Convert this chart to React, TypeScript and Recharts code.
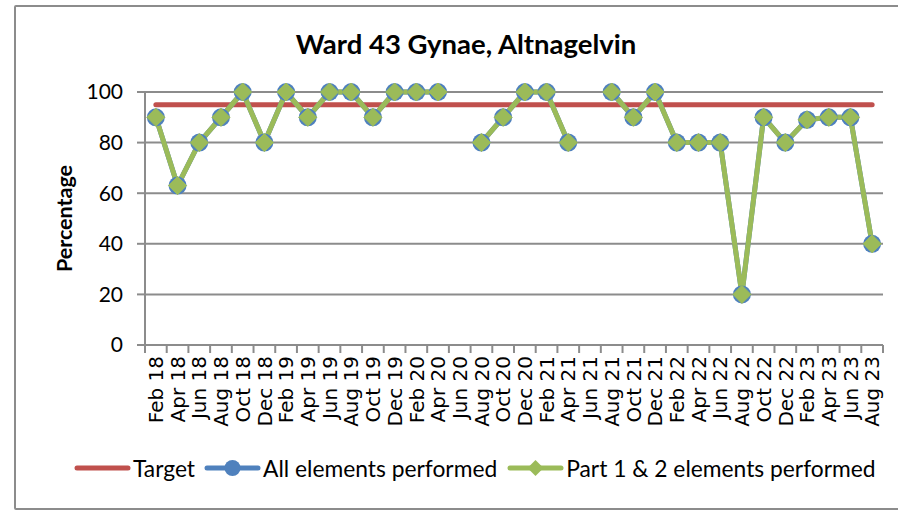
import React from 'react';
import { LineChart, Line, XAxis, YAxis, CartesianGrid, Legend } from 'recharts';

const months = [
  'Feb 18', 'Apr 18', 'Jun 18', 'Aug 18', 'Oct 18', 'Dec 18',
  'Feb 19', 'Apr 19', 'Jun 19', 'Aug 19', 'Oct 19', 'Dec 19',
  'Feb 20', 'Apr 20', 'Jun 20', 'Aug 20', 'Oct 20', 'Dec 20',
  'Feb 21', 'Apr 21', 'Jun 21', 'Aug 21', 'Oct 21', 'Dec 21',
  'Feb 22', 'Apr 22', 'Jun 22', 'Aug 22', 'Oct 22', 'Dec 22',
  'Feb 23', 'Apr 23', 'Jun 23', 'Aug 23',
];

const target = [
  95, 95, 95, 95, 95, 95, 95, 95, 95, 95, 95, 95, 95, 95, 95, 95, 95,
  95, 95, 95, 95, 95, 95, 95, 95, 95, 95, 95, 95, 95, 95, 95, 95, 95,
];

const allElements = [
  90, 63, 80, 90, 100, 80, 100, 90, 100, 100, 90, 100,
  100, 100, null, 80, 90, 100, 100, 80, null, 100, 90, 100,
  80, 80, 80, 20, 90, 80, 89, 90, 90, 40,
];

const part12 = [
  90, 63, 80, 90, 100, 80, 100, 90, 100, 100, 90, 100,
  100, 100, null, 80, 90, 100, 100, 80, null, 100, 90, 100,
  80, 80, 80, 20, 90, 80, 89, 90, 90, 40,
];

const yTicks = [0, 20, 40, 60, 80, 100];

const data = months.map((m, i) => ({
  month: m,
  target: target[i],
  all: allElements[i],
  part: part12[i],
}));

const RED = '#C0504D';
const BLUE = '#4F81BD';
const GREEN = '#9BBB59';
const GREY = '#8c8c8c';

const PLOT_LEFT = 145;
const PLOT_RIGHT = 883;
const STEP = (PLOT_RIGHT - PLOT_LEFT) / months.length;

const XTick = (props: any) => {
  const { x, y, payload, index } = props;
  const ty = y + 3;
  return (
    <g>
      <line x1={x - STEP / 2} x2={x - STEP / 2} y1={y - 8} y2={y} stroke={GREY} strokeWidth={2} />
      {index === months.length - 1 && (
        <line x1={x + STEP / 2} x2={x + STEP / 2} y1={y - 8} y2={y} stroke={GREY} strokeWidth={2} />
      )}
      <text
        x={x}
        y={ty}
        dy="0.36em"
        transform={`rotate(-90, ${x}, ${ty})`}
        textAnchor="end"
        fontFamily="DejaVu Sans"
        fontSize={20}
        fill="#000"
      >
        {payload.value}
      </text>
    </g>
  );
};

const Diamond = (props: any) => {
  const { cx, cy, index } = props;
  if (cx == null || cy == null || part12[index] == null) return <g key={`d-${index}`} />;
  const r = 9;
  return (
    <path
      key={`d-${index}`}
      d={`M${cx},${cy - r}L${cx + r},${cy}L${cx},${cy + r}L${cx - r},${cy}Z`}
      fill={GREEN}
      stroke={GREEN}
      strokeWidth={1}
    />
  );
};

const Circle = (props: any) => {
  const { cx, cy, index } = props;
  if (cx == null || cy == null || allElements[index] == null) return <g key={`c-${index}`} />;
  return <circle key={`c-${index}`} cx={cx} cy={cy} r={9} fill={BLUE} />;
};

const LegendContent = () => (
  <div
    style={{
      display: 'flex',
      alignItems: 'center',
      fontFamily: 'Lato',
      fontSize: 22.8,
      color: '#000',
      whiteSpace: 'nowrap',
    }}
  >
    <svg width={57} height={20}>
      <line x1={3} x2={54} y1={10} y2={10} stroke={RED} strokeWidth={5} strokeLinecap="round" />
    </svg>
    <span style={{ marginLeft: 2 }}>Target</span>
    <svg width={57} height={20} style={{ marginLeft: 9 }}>
      <line x1={3} x2={54} y1={10} y2={10} stroke={BLUE} strokeWidth={5} strokeLinecap="round" />
      <circle cx={28.5} cy={10} r={8} fill={BLUE} />
    </svg>
    <span style={{ marginLeft: 2 }}>All elements performed</span>
    <svg width={57} height={20} style={{ marginLeft: 10 }}>
      <line x1={3} x2={54} y1={10} y2={10} stroke={GREEN} strokeWidth={5} strokeLinecap="round" />
      <path d="M28.5,2L36.5,10L28.5,18L20.5,10Z" fill={GREEN} />
    </svg>
    <span style={{ marginLeft: 2 }}>Part 1 &amp; 2 elements performed</span>
  </div>
);

export default function App() {
  return (
    <div style={{ position: 'relative', width: 898, height: 515, background: '#fff' }}>
      <style>{`body{margin:0}`}</style>
      <div
        style={{
          position: 'absolute',
          left: 14,
          top: 5,
          width: 890,
          height: 505,
          border: `2px solid ${GREY}`,
          boxSizing: 'border-box',
          borderRadius: 2,
        }}
      />
      <div
        style={{
          position: 'absolute',
          left: 0,
          width: 932,
          top: 27,
          textAlign: 'center',
          fontFamily: 'Lato',
          fontWeight: 700,
          fontSize: 27.5,
          color: '#000',
        }}
      >
        Ward 43 Gynae, Altnagelvin
      </div>
      <div style={{ position: 'absolute', left: 0, top: 0 }}>
        <LineChart
          width={898}
          height={515}
          data={data}
          margin={{ top: 92, right: 898 - PLOT_RIGHT, bottom: 0, left: 0 }}
        >
          <CartesianGrid vertical={false} stroke={GREY} strokeWidth={2} />
          <XAxis
            dataKey="month"
            interval={0}
            height={170}
            tickLine={false}
            tickSize={8}
            tickMargin={0}
            axisLine={{ stroke: GREY, strokeWidth: 2 }}
            padding={{ left: STEP / 2, right: STEP / 2 }}
            tick={<XTick />}
          />
          <YAxis
            width={PLOT_LEFT}
            domain={[0, 100]}
            ticks={yTicks}
            interval={0}
            tickSize={8}
            tickMargin={14}
            axisLine={{ stroke: GREY, strokeWidth: 2 }}
            tickLine={{ stroke: GREY, strokeWidth: 2 }}
            tick={{ fontFamily: 'Lato', fontSize: 21, fill: '#000' }}
            label={{
              value: 'Percentage',
              angle: -90,
              position: 'insideLeft',
              dx: 59,
              style: { fontFamily: 'Lato', fontWeight: 700, fontSize: 21.5, fill: '#000', textAnchor: 'middle' },
            }}
          />
          <Legend
            layout="horizontal"
            verticalAlign="middle"
            content={<LegendContent />}
            wrapperStyle={{ position: 'absolute', left: 74, top: 454, width: 820, height: 30 }}
          />
          <Line
            dataKey="target"
            name="Target"
            stroke={RED}
            strokeWidth={5}
            strokeLinecap="round"
            dot={false}
            activeDot={false}
            isAnimationActive={false}
          />
          <Line
            dataKey="all"
            name="All elements performed"
            stroke={BLUE}
            strokeWidth={5}
            dot={<Circle />}
            activeDot={false}
            isAnimationActive={false}
          />
          <Line
            dataKey="part"
            name="Part 1 & 2 elements performed"
            stroke={GREEN}
            strokeWidth={5}
            strokeLinejoin="round"
            dot={<Diamond />}
            activeDot={false}
            isAnimationActive={false}
          />
        </LineChart>
      </div>
    </div>
  );
}
